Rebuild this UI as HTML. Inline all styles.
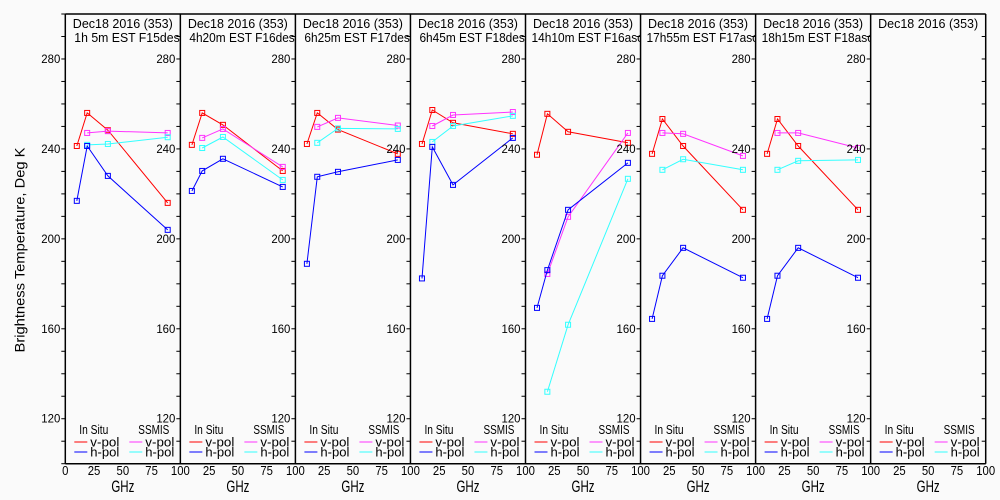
<!DOCTYPE html>
<html><head><meta charset="utf-8"><style>
html,body{margin:0;padding:0;background:#fafafa;}
svg{display:block;font-family:"Liberation Sans",sans-serif;}
</style></head><body>
<svg id="c" width="1000" height="500" xmlns="http://www.w3.org/2000/svg">
<rect width="1000" height="500" fill="#fafafa"/>
<text x="21" y="250" font-size="14" text-anchor="middle" textLength="205" lengthAdjust="spacingAndGlyphs" transform="rotate(-90 21 250)" dominant-baseline="middle">Brightness Temperature, Deg K</text>
</svg>
<script>
const titles1 = ["Dec18 2016 (353)","Dec18 2016 (353)","Dec18 2016 (353)","Dec18 2016 (353)","Dec18 2016 (353)","Dec18 2016 (353)","Dec18 2016 (353)","Dec18 2016 (353)"];
const titles2 = ["1h 5m  EST F15des","4h20m  EST F16des","6h25m  EST F17des","6h45m  EST F18des","14h10m  EST F16asc","17h55m  EST F17asc","18h15m  EST F18asc",""];
const insituFreq = [10, 19, 37, 89];
const ssmisFreq = [19, 37, 89];
const insituV = [
 [241.3,256.0,248.3,216.0],[241.8,256.0,250.7,230.2],[242.2,256.0,248.6,237.8],[242.2,257.3,251.6,246.7],
 [237.4,255.6,247.6,242.7],[237.8,253.3,241.3,212.9],[237.8,253.3,241.3,212.9],null];
const insituH = [
 [216.9,241.3,228.0,204.0],[221.3,230.2,235.6,223.1],[188.9,227.6,229.8,235.1],[182.4,240.9,224.0,244.9],
 [169.3,186.1,212.9,233.8],[164.4,183.6,196.0,182.7],[164.4,183.6,196.0,182.7],null];
const ssmisV = [
 [247.1,247.9,247.1],[244.9,248.9,232.0],[249.8,253.8,250.4],[250.2,255.1,256.4],
 [184.4,209.8,247.1],[247.1,246.7,236.9],[247.1,247.1,240.4],null];
const ssmisH = [
 [241.8,242.2,245.2],[240.4,245.3,226.2],[242.7,249.1,248.9],[243.1,250.2,254.7],
 [132.0,161.8,226.7],[230.7,235.4,230.7],[230.7,234.7,235.1],null];
const yTickLabels = [120,160,200,240,280];
const xTickLabels = [0,25,50,75,100];

const NS="http://www.w3.org/2000/svg";
const svg=document.getElementById('c');
const L0=65.3, PW=115.05, TOP=14, BOT=463.7, YMIN=100, YMAX=300;
function yS(v){return BOT-(v-YMIN)/(YMAX-YMIN)*(BOT-TOP);}
function xS(p,f){return L0+p*PW+f/100*PW;}
function mk(tag,attrs,parent){const e=document.createElementNS(NS,tag);for(const k in attrs)e.setAttribute(k,attrs[k]);(parent||svg).appendChild(e);return e;}
const defs=mk('defs',{});
const colors={iv:'#ff0000',ih:'#0000ff',sv:'#ff33ff',sh:'#33ffff'};
for(let p=0;p<8;p++){
  const g=mk('g',{});
  
  
  const x0=xS(p,0), x1=xS(p,100);
  const cp=mk('clipPath',{id:'cp'+p},defs); mk('rect',{x:x0,y:0,width:PW-0.5,height:500},cp);
  const t1=mk('text',{x:x0+7.5,y:28,'font-size':13,textLength:100,lengthAdjust:'spacingAndGlyphs'},g);
  t1.textContent=titles1[p];
  
  
  if(titles2[p]){
    const t2=mk('text',{x:x0+(titles2[p].length>17?6:9),y:42,'font-size':13,'clip-path':'url(#cp'+p+')',textLength:titles2[p].length*6.2,lengthAdjust:'spacingAndGlyphs','xml:space':'preserve'},g);
    t2.textContent=titles2[p];
    
    
  }
  xTickLabels.forEach((v,i)=>{
    if(p>0&&i===0)return;
    const s=String(v);
    const t=mk('text',{x:xS(p,v),y:475,'font-size':13,'text-anchor':'middle',textLength:s.length*6.3,lengthAdjust:'spacingAndGlyphs'},g);
    t.textContent=s;
    
    
  });
  const gx=mk('text',{x:(x0+x1)/2,y:492,'font-size':17,'text-anchor':'middle',textLength:23,lengthAdjust:'spacingAndGlyphs'},g);
  gx.textContent='GHz';
  
  
  const lg=mk('g',{},g);
  
  
  const a=mk('text',{x:x0+14,y:434,'font-size':13,textLength:29,lengthAdjust:'spacingAndGlyphs'},lg); a.textContent='In Situ';
  const b=mk('text',{x:x0+73,y:434,'font-size':13,textLength:31,lengthAdjust:'spacingAndGlyphs'},lg); b.textContent='SSMIS';
  [['iv',9,442,'v-pol'],['ih',9,452,'h-pol'],['sv',64,442,'v-pol'],['sh',64,452,'h-pol']].forEach(e=>{
    mk('line',{x1:x0+e[1],x2:x0+e[1]+13,y1:e[2],y2:e[2],stroke:colors[e[0]],'stroke-width':1},lg);
    const t=mk('text',{x:x0+e[1]+16,y:e[2]+4.5,'font-size':13,textLength:29,lengthAdjust:'spacingAndGlyphs'},lg); t.textContent=e[3];
  });
  const ser=[[insituV,insituFreq,'iv','insitu-vpol'],[ssmisV,ssmisFreq,'sv','ssmis-vpol'],[ssmisH,ssmisFreq,'sh','ssmis-hpol'],[insituH,insituFreq,'ih','insitu-hpol']];
  ser.forEach(s=>{
    const vals=s[0][p]; if(!vals)return;
    const pts=vals.map((v,i)=>xS(p,s[1][i]).toFixed(1)+','+yS(v).toFixed(1)).join(' ');
    const pl=mk('polyline',{points:pts,fill:'none',stroke:colors[s[2]],'stroke-width':1},g);
    
    
    vals.forEach((v,i)=>{
      const r=mk('rect',{x:xS(p,s[1][i])-2.5,y:yS(v)-2.5,width:5,height:5,fill:'none',stroke:colors[s[2]],'stroke-width':1},g);
      
      
    });
  });
}
for(let k=0;k<=8;k++){
  const x=xS(k,0);
  mk('line',{x1:x,x2:x,y1:TOP,y2:BOT,stroke:'#000','stroke-width':1.5});
  for(let v=YMIN;v<=YMAX;v+=10){mk('line',{x1:x-4,x2:x,y1:yS(v),y2:yS(v),stroke:'#000','stroke-width':1});}
  if(k<8){
    yTickLabels.forEach(v=>{
      const t=mk('text',{x:x-5,y:yS(v)+4,'font-size':12,'text-anchor':'end',textLength:19,lengthAdjust:'spacingAndGlyphs'});
      t.textContent=v;
      
      
    });
  }
}
mk('line',{x1:L0,x2:xS(8,0),y1:TOP,y2:TOP,stroke:'#000','stroke-width':1.5});
mk('line',{x1:L0,x2:xS(8,0),y1:BOT,y2:BOT,stroke:'#000','stroke-width':1.5});
</script>
</body></html>
